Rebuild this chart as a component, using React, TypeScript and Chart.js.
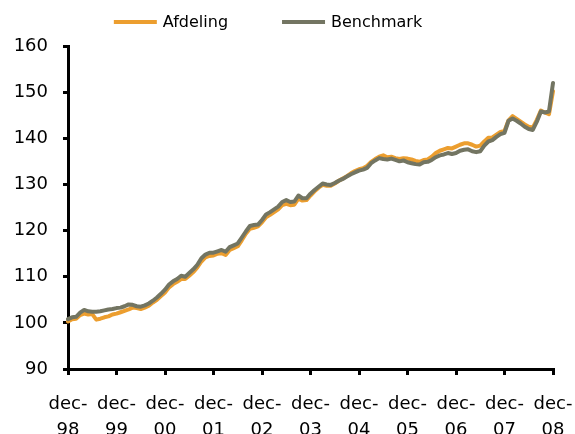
import React, { useEffect, useRef } from "react";
import { Chart, registerables } from "chart.js";

Chart.register(...registerables);

const monthNames = ["dec", "jan", "feb", "mar", "apr", "maj", "jun", "jul", "aug", "sep", "okt", "nov"];
const yearLabels = ["98", "99", "00", "01", "02", "03", "04", "05", "06", "07", "08"];

const seriesNames = ["Afdeling", "Benchmark"];
const seriesColors = ["#EC9E2F", "#737562"];

const afdeling = [
  100.3, 100.8, 100.9, 101.7, 102.0, 101.8, 101.9, 100.7, 100.9, 101.2, 101.4, 101.8,
  102.0, 102.3, 102.6, 102.9, 103.3, 103.2, 103.0, 103.3, 103.7, 104.4, 105.0, 105.8,
  106.6, 107.7, 108.4, 108.9, 109.5, 109.5, 110.2, 111.0, 112.0, 113.3, 114.2, 114.5,
  114.6, 115.0, 115.1, 114.7, 115.8, 116.2, 116.6, 117.9, 119.3, 120.4, 120.6, 120.9,
  121.8, 122.9, 123.4, 124.0, 124.6, 125.5, 125.8, 125.5, 125.6, 126.9, 126.5, 126.6,
  127.6, 128.5, 129.3, 129.9, 129.7, 129.7, 130.2, 130.8, 131.3, 131.8, 132.4, 132.9,
  133.3, 133.5, 134.0, 134.9, 135.5, 136.0, 136.3, 135.9, 136.0, 135.7, 135.5, 135.7,
  135.6, 135.4, 135.1, 134.9, 135.3, 135.4, 136.0, 136.8, 137.3, 137.6, 137.9, 137.8,
  138.2, 138.6, 138.9, 138.9, 138.6, 138.2, 138.4, 139.3, 140.1, 140.2, 140.8, 141.4,
  141.6, 143.9, 144.8, 144.2, 143.6, 143.0, 142.5, 142.3, 144.0, 146.0, 145.6, 145.2,
  150.2,
];

const benchmark = [
  100.8, 101.2, 101.3, 102.2, 102.8, 102.5, 102.4, 102.4, 102.5, 102.7, 102.9, 103.0,
  103.2, 103.3, 103.6, 104.0, 103.9, 103.6, 103.5, 103.8, 104.2, 104.8, 105.5, 106.3,
  107.2, 108.3, 109.0, 109.5, 110.2, 110.0, 110.8, 111.6, 112.6, 114.0, 114.8, 115.2,
  115.2, 115.5, 115.8, 115.4, 116.4, 116.8, 117.2, 118.5, 119.8, 121.0, 121.2, 121.3,
  122.3, 123.5, 124.0, 124.6, 125.2, 126.2, 126.6, 126.2, 126.3, 127.6, 127.0, 127.0,
  128.0, 128.8, 129.5, 130.2, 130.0, 129.9, 130.3, 130.8, 131.2, 131.7, 132.2, 132.6,
  133.0, 133.2, 133.6, 134.6, 135.2, 135.7, 135.5, 135.4, 135.6, 135.3, 135.0, 135.2,
  134.8, 134.6, 134.4, 134.3, 134.8, 134.9, 135.3, 135.9, 136.3, 136.5, 136.8, 136.6,
  136.8, 137.3, 137.5, 137.6, 137.2, 137.0, 137.2, 138.4, 139.3, 139.6, 140.3, 140.9,
  141.2, 143.8, 144.3, 143.8, 143.2, 142.5, 142.0, 141.8, 143.6, 145.8, 145.6, 145.8,
  152.0,
];

const yTicks = [90, 100, 110, 120, 130, 140, 150, 160];

// monthly category labels, dec-98 .. dec-08
const categories: string[] = [];
for (let i = 0; i < afdeling.length; i++) {
  const yi = Math.floor((i + 11) / 12);
  categories.push(monthNames[i % 12] + "-" + yearLabels[yi]);
}

const FONT = "'DejaVu Sans', Verdana, sans-serif";

const legendPlugin = {
  id: "excelLegend",
  afterDraw(chart: any) {
    const ctx = chart.ctx as CanvasRenderingContext2D;
    ctx.save();
    ctx.font = "16px " + FONT;
    ctx.textBaseline = "middle";
    const lineLen = 43;
    const gap = 6;
    const itemGap = 54;
    const widths = seriesNames.map((n) => ctx.measureText(n).width);
    const total = widths.reduce((a, w) => a + lineLen + gap + w, 0) + itemGap * (seriesNames.length - 1);
    let x = 268 - total / 2;
    const y = 22;
    seriesNames.forEach((name, i) => {
      ctx.strokeStyle = seriesColors[i];
      ctx.lineWidth = 4;
      ctx.beginPath();
      ctx.moveTo(x, y);
      ctx.lineTo(x + lineLen, y);
      ctx.stroke();
      ctx.fillStyle = "#000";
      ctx.fillText(name, x + lineLen + gap, y + 1);
      x += lineLen + gap + widths[i] + itemGap;
    });
    ctx.restore();
  },
};

export default function App() {
  const ref = useRef<HTMLCanvasElement | null>(null);

  useEffect(() => {
    document.body.style.margin = "0";
    if (!ref.current) return;
    const chart = new Chart(ref.current, {
      type: "line",
      data: {
        labels: categories,
        datasets: [
          {
            label: seriesNames[0],
            data: afdeling,
            borderColor: seriesColors[0],
            backgroundColor: seriesColors[0],
            borderWidth: 4,
            pointRadius: 0,
            tension: 0,
            borderJoinStyle: "round",
            borderCapStyle: "round",
            order: 2,
          },
          {
            label: seriesNames[1],
            data: benchmark,
            borderColor: seriesColors[1],
            backgroundColor: seriesColors[1],
            borderWidth: 4,
            pointRadius: 0,
            tension: 0,
            borderJoinStyle: "round",
            borderCapStyle: "round",
            order: 1,
          },
        ],
      },
      options: {
        responsive: false,
        animation: false,
        layout: { padding: { top: 46, right: 22, left: 0, bottom: 0 } },
        plugins: {
          legend: { display: false },
          tooltip: { enabled: false },
        },
        scales: {
          x: {
            type: "category",
            offset: false,
            border: { display: true, color: "#000", width: 3 },
            grid: {
              display: true,
              drawOnChartArea: false,
              drawTicks: true,
              tickLength: 6,
              color: "#000",
              lineWidth: 3,
              offset: false,
            },
            ticks: {
              autoSkip: false,
              maxRotation: 0,
              minRotation: 0,
              padding: 16,
              color: "#000",
              font: { family: FONT, size: 18, lineHeight: 1.45 },
              callback: (_v: any, idx: number) =>
                idx % 12 === 0 ? ["dec-", yearLabels[idx / 12]] : null,
            },
            afterFit: (scale: any) => {
              scale.height = 65;
              scale.paddingLeft = 0;
              scale.paddingRight = 0;
            },
          },
          y: {
            min: yTicks[0],
            max: yTicks[yTicks.length - 1],
            border: { display: true, color: "#000", width: 3 },
            grid: {
              display: true,
              drawOnChartArea: false,
              drawTicks: true,
              tickLength: 5,
              color: "#000",
              lineWidth: 3,
            },
            afterBuildTicks: (scale: any) => {
              scale.ticks = yTicks.map((v) => ({ value: v }));
            },
            ticks: {
              padding: 15,
              color: "#000",
              font: { family: FONT, size: 18 },
            },
            afterFit: (scale: any) => {
              scale.width = 68;
              scale.paddingTop = 0;
              scale.paddingBottom = 0;
            },
          },
        },
      },
      plugins: [legendPlugin],
    });
    return () => chart.destroy();
  }, []);

  return (
    <div style={{ width: 575, height: 434, position: "relative", overflow: "hidden" }}>
      <canvas ref={ref} width={575} height={434} style={{ display: "block" }} />
    </div>
  );
}
